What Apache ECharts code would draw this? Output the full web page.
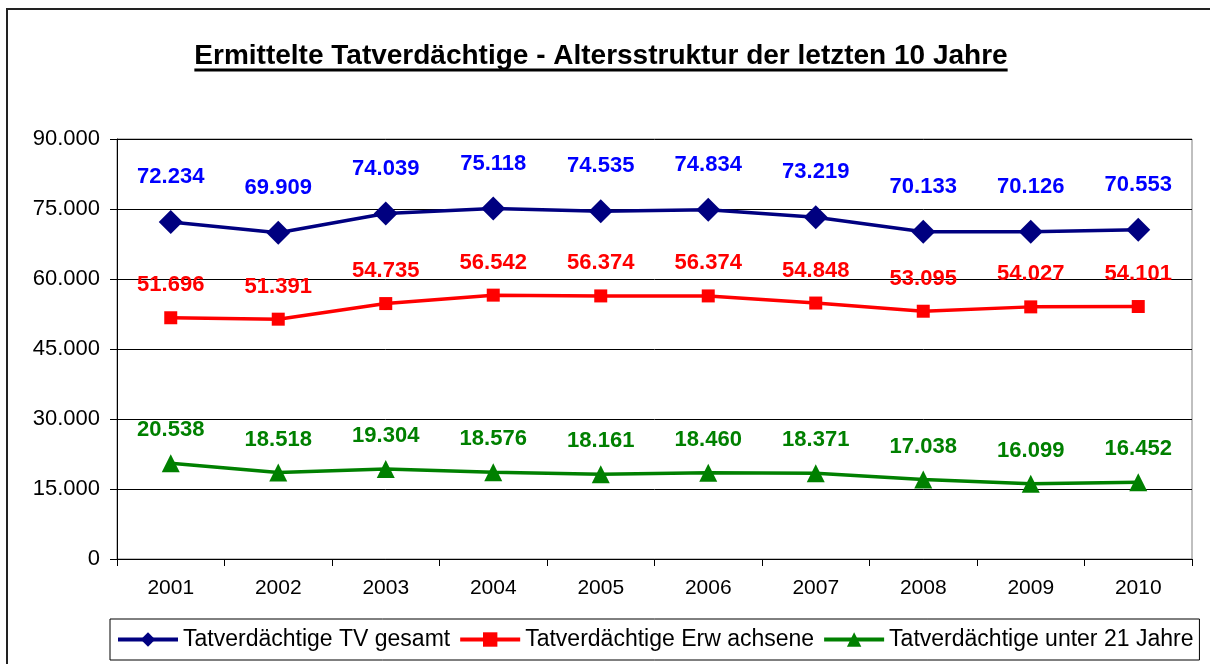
<!DOCTYPE html>
<html>
<head>
<meta charset="utf-8">
<script src="https://cdn.jsdelivr.net/npm/echarts@6/dist/echarts.min.js"></script>
<style>
  html, body { margin: 0; padding: 0; background: #fff; }
  #chart { width: 1210px; height: 664px; }
</style>
</head>
<body>
<div id="chart"></div>
<script>
// Tatverdächtige nach Altersgruppen 2001-2010
const years = ['2001', '2002', '2003', '2004', '2005', '2006', '2007', '2008', '2009', '2010'];
const tvGesamt = [72234, 69909, 74039, 75118, 74535, 74834, 73219, 70133, 70126, 70553];
const erwachsene = [51696, 51391, 54735, 56542, 56374, 56374, 54848, 53095, 54027, 54101];
const unter21 = [20538, 18518, 19304, 18576, 18161, 18460, 18371, 17038, 16099, 16452];
const seriesNames = ['Tatverdächtige TV gesamt', 'Tatverdächtige Erw achsene', 'Tatverdächtige unter 21 Jahre'];
const titleText = 'Ermittelte Tatverdächtige - Altersstruktur der letzten 10 Jahre';

const FONT = '"Liberation Sans", Arial, sans-serif';
const fmt = (v) => String(v).replace(/\B(?=(\d{3})+(?!\d))/g, '.');

// underline for the title: measure the text width
const titleFont = 'bold 28px ' + FONT;
const cv = document.createElement('canvas').getContext('2d');
cv.font = titleFont;
const titleW = cv.measureText(titleText).width;
const titleX = 601;

const chart = echarts.init(document.getElementById('chart'), null, { renderer: 'canvas' });

function lineSeries(name, data, lineColor, labelColor, symbol, size, dist) {
  return {
    name, type: 'line', data,
    symbol, symbolSize: size,
    lineStyle: { color: lineColor, width: 3.5 },
    itemStyle: { color: lineColor },
    label: {
      show: true, position: 'top', distance: dist,
      color: labelColor, fontFamily: FONT, fontWeight: 'bold', fontSize: 22,
      formatter: (p) => fmt(p.value),
    },
    emphasis: { disabled: true },
    animation: false,
  };
}

chart.setOption({
  backgroundColor: '#fff',
  animation: false,
  grid: { left: 117, right: 18, top: 139, bottom: 105, show: true, borderColor: '#808080', borderWidth: 1 },
  legend: {
    left: 110, top: 619,
    padding: [9, 6], itemGap: 8, itemWidth: 60, itemHeight: 18,
    borderColor: '#000', borderWidth: 1,
    lineStyle: { width: 4 },
    textStyle: { color: '#000', fontFamily: FONT, fontSize: 23 },
    data: seriesNames,
  },
  xAxis: {
    type: 'category', data: years, boundaryGap: true,
    axisLine: { lineStyle: { color: '#000', width: 1 } },
    axisTick: { show: true, length: 7, interval: 0, lineStyle: { color: '#000' } },
    axisLabel: { color: '#000', fontFamily: FONT, fontSize: 21, margin: 19, interval: 0 },
  },
  yAxis: {
    type: 'value', min: 0, max: 90000, interval: 15000,
    axisLine: { show: true, lineStyle: { color: '#000', width: 1 } },
    axisTick: { show: true, length: 7, lineStyle: { color: '#000' } },
    axisLabel: { color: '#000', fontFamily: FONT, fontSize: 22, margin: 17, formatter: fmt },
    splitLine: { show: true, lineStyle: { color: '#000', width: 1 } },
  },
  series: [
    lineSeries(seriesNames[0], tvGesamt, '#000080', '#0000FF', 'diamond', 24, 22),
    lineSeries(seriesNames[1], erwachsene, '#FF0000', '#FF0000', 'rect', 13, 15),
    lineSeries(seriesNames[2], unter21, '#008000', '#008000', 'triangle', 18, 13),
  ],
  graphic: [
    { type: 'rect', silent: true, shape: { x: 7, y: 9, width: 1230, height: 700 },
      style: { fill: 'none', stroke: '#222', lineWidth: 2 } },
    { type: 'text', silent: true, x: titleX, y: 56,
      style: { text: titleText, font: titleFont, fill: '#000', align: 'center', verticalAlign: 'middle' } },
    { type: 'line', silent: true,
      shape: { x1: titleX - titleW / 2, y1: 70, x2: titleX + titleW / 2, y2: 70 },
      style: { stroke: '#000', lineWidth: 3 } },
  ],
});
</script>
</body>
</html>
